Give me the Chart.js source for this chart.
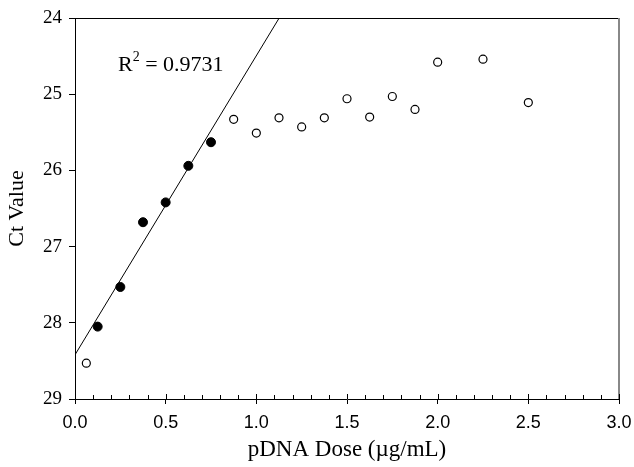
<!DOCTYPE html>
<html><head><meta charset="utf-8">
<script src="https://cdn.jsdelivr.net/npm/chart.js@4/dist/chart.umd.min.js"></script>
<style>html,body{margin:0;padding:0;background:#fff}#wrap{width:634px;height:467px;position:relative}</style>
</head><body><div id="wrap"><canvas id="c"></canvas></div>
<script>
// Data
const filledDose = [0.125, 0.25, 0.375, 0.5, 0.625, 0.75];
const filledCt   = [28.05, 27.53, 26.68, 26.42, 25.94, 25.63];
const openDose   = [0.0625, 0.875, 1.0, 1.125, 1.25, 1.375, 1.5, 1.625, 1.75, 1.875, 2.0, 2.25, 2.5];
const openCt     = [28.53, 25.33, 25.51, 25.31, 25.43, 25.31, 25.06, 25.30, 25.03, 25.20, 24.58, 24.54, 25.11];
const fitDose    = [0, 1.126];
const fitCt      = [28.42, 24.0];
const xTitle = 'pDNA Dose (\u00B5g/mL)';
const yTitle = 'Ct Value';
const rLabel = ['R', '2', ' = 0.9731'];

const toPts = (xs, ys) => xs.map((x, i) => ({x, y: ys[i]}));

const extras = {
  id: 'extras',
  afterDraw(chart) {
    const {ctx, chartArea: a, scales: {x}} = chart;
    ctx.save();
    // frame: top black, right gray
    ctx.strokeStyle = '#000'; ctx.lineWidth = 1;
    ctx.beginPath(); ctx.moveTo(a.left, a.top + 0.5); ctx.lineTo(a.right, a.top + 0.5); ctx.stroke();
    ctx.strokeStyle = '#888'; ctx.lineWidth = 2;
    ctx.beginPath(); ctx.moveTo(a.right, a.top); ctx.lineTo(a.right, a.bottom); ctx.stroke();
    // x minor ticks (inside) and inner half of major ticks
    ctx.strokeStyle = '#000'; ctx.lineWidth = 1;
    for (let i = 0; i <= 30; i++) {
      const px = Math.round(x.getPixelForValue(i / 10)) + 0.5;
      const len = (i % 5 === 0) ? 5 : 4;
      ctx.beginPath(); ctx.moveTo(px, a.bottom - len); ctx.lineTo(px, a.bottom); ctx.stroke();
    }
    // R^2 annotation
    ctx.fillStyle = '#000';
    ctx.textBaseline = 'alphabetic';
    let tx = 118, by = 71;
    ctx.font = '22px "Liberation Serif"';
    ctx.fillText(rLabel[0], tx, by); tx += ctx.measureText(rLabel[0]).width;
    ctx.font = '14px "Liberation Serif"';
    ctx.fillText(rLabel[1], tx, by - 10); tx += ctx.measureText(rLabel[1]).width;
    ctx.font = '22px "Liberation Serif"';
    ctx.fillText(rLabel[2], tx, by);
    ctx.restore();
  }
};

new Chart(document.getElementById('c'), {
  type: 'scatter',
  data: {
    datasets: [
      { data: toPts(fitDose, fitCt), showLine: true, borderColor: '#000', borderWidth: 1,
        pointRadius: 0, fill: false },
      { data: toPts(filledDose, filledCt), pointRadius: 4.5, pointBackgroundColor: '#000',
        pointBorderColor: '#000', pointBorderWidth: 1 },
      { data: toPts(openDose, openCt), pointRadius: 4, pointBackgroundColor: '#fff',
        pointBorderColor: '#000', pointBorderWidth: 1.2 }
    ]
  },
  options: {
    responsive: true, maintainAspectRatio: false, animation: false,
    layout: { padding: { top: 18, right: 15, left: 0, bottom: 0 } },
    plugins: { legend: { display: false }, tooltip: { enabled: false } },
    scales: {
      x: {
        type: 'linear', min: 0, max: 3,
        afterFit(s) { s.height = 68; s.paddingRight = 0; s.paddingLeft = 0; },
        ticks: { stepSize: 0.5, callback: v => v.toFixed(1), color: '#000', padding: 8,
                 font: { family: '"Liberation Sans"', size: 18 }, maxRotation: 0 },
        grid: { drawOnChartArea: false, drawTicks: true, tickLength: 5, tickColor: '#000' },
        border: { display: true, color: '#000', width: 1 },
        title: { display: true, text: xTitle, color: '#000', padding: { top: 0, bottom: 3 },
                 font: { family: '"Liberation Serif"', size: 23 } }
      },
      y: {
        type: 'linear', min: 24, max: 29, reverse: true,
        afterFit(s) { s.width = 75; s.paddingTop = 0; s.paddingBottom = 0; },
        ticks: { stepSize: 1, color: '#000', padding: 7,
                 font: { family: '"Liberation Serif"', size: 19 } },
        grid: { drawOnChartArea: false, drawTicks: true, tickLength: 6, tickColor: '#000' },
        border: { display: true, color: '#000', width: 1 },
        title: { display: true, text: yTitle, color: '#000', padding: { top: 4, bottom: 0 },
                 font: { family: '"Liberation Serif"', size: 22 } }
      }
    }
  },
  plugins: [extras]
});
</script></body></html>
